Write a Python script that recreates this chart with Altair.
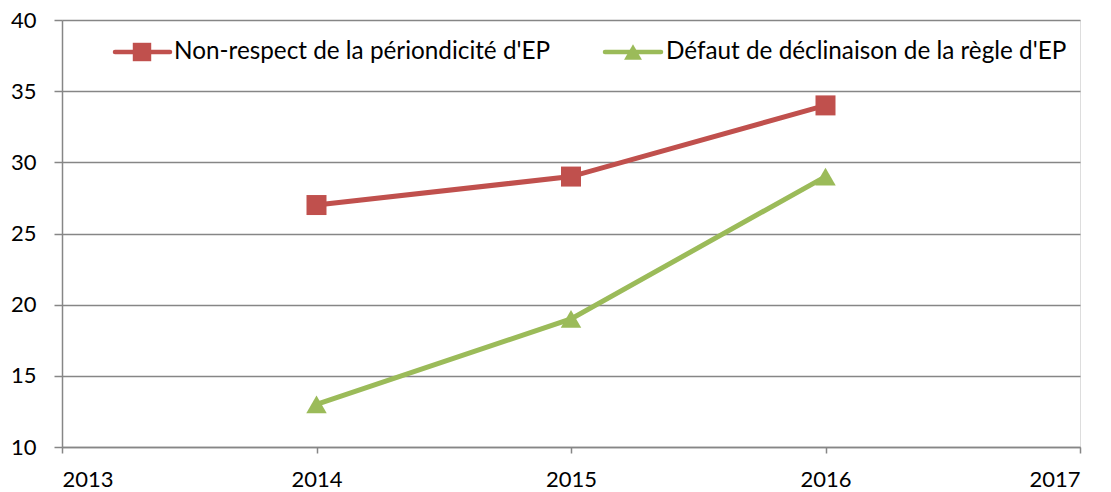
import altair as alt
import pandas as pd

years = [2014, 2015, 2016]
series_names = ["Non-respect de la périondicité d'EP", "Défaut de déclinaison de la règle d'EP"]
values_red = [27, 29, 34]
values_green = [13, 19, 29]
x_ticks = [2013, 2014, 2015, 2016, 2017]
y_ticks = [10, 15, 20, 25, 30, 35, 40]

RED = "#C0504D"
GREEN = "#9BBB59"
GRAY = "#868686"
FONT = "Lato"

df = pd.DataFrame({
    "year": years * 2,
    "value": values_red + values_green,
    "series": [series_names[0]] * 3 + [series_names[1]] * 3,
})

xs = alt.Scale(domain=[2013, 2017], nice=False, zero=False)
ys = alt.Scale(domain=[10, 40], nice=False, zero=False)
cs = alt.Scale(domain=series_names, range=[RED, GREEN])

base = alt.Chart(df)
x = alt.X("year:Q", scale=xs, axis=alt.Axis(values=x_ticks, format="d", title=None, grid=False,
          domainColor=GRAY, tickColor=GRAY, tickSize=6, labelFontSize=22, labelPadding=16,
          labelColor="#000000", labelFont=FONT, domainWidth=1.5, tickWidth=1.5))
y = alt.Y("value:Q", scale=ys, axis=alt.Axis(values=y_ticks, title=None, grid=True, gridColor=GRAY,
          gridWidth=1.5, domainColor=GRAY, tickColor=GRAY, tickSize=8, labelFontSize=22,
          labelPadding=18, labelColor="#000000", labelFont=FONT, domainWidth=1.5, tickWidth=1.5))

lines = base.mark_line(strokeWidth=5).encode(
    x=x, y=y, color=alt.Color("series:N", scale=cs, legend=None), detail="series:N")
red_pts = alt.Chart(df[df.series == series_names[0]]).mark_point(
    shape="square", filled=True, size=400, opacity=1, color=RED).encode(x=alt.X("year:Q", scale=xs), y=alt.Y("value:Q", scale=ys))
green_pts = alt.Chart(df[df.series == series_names[1]]).mark_point(
    shape="triangle-up", filled=True, size=420, opacity=1, color=GREEN).encode(x=alt.X("year:Q", scale=xs), y=alt.Y("value:Q", scale=ys))

leg_df = pd.DataFrame({"label": [series_names[0]]})
leg_df2 = pd.DataFrame({"label": [series_names[1]]})
LY = 32
leg = [
    alt.Chart(leg_df).mark_rule(color=RED, strokeWidth=4.5, strokeCap="round").encode(
        x=alt.value(53), x2=alt.value(108), y=alt.value(LY)),
    alt.Chart(leg_df).mark_point(shape="square", filled=True, size=340, opacity=1, color=RED).encode(
        x=alt.value(80), y=alt.value(LY)),
    alt.Chart(leg_df).mark_text(align="left", baseline="middle", fontSize=24.3, font=FONT, color="#000000").encode(
        x=alt.value(112), y=alt.value(LY), text="label:N"),
    alt.Chart(leg_df2).mark_rule(color=GREEN, strokeWidth=4.5, strokeCap="round").encode(
        x=alt.value(543), x2=alt.value(599), y=alt.value(LY)),
    alt.Chart(leg_df2).mark_point(shape="triangle-up", filled=True, size=320, opacity=1, color=GREEN).encode(
        x=alt.value(571), y=alt.value(LY)),
    alt.Chart(leg_df2).mark_text(align="left", baseline="middle", fontSize=24.3, font=FONT, color="#000000").encode(
        x=alt.value(604), y=alt.value(LY), text="label:N"),
]

chart = alt.layer(lines, red_pts, green_pts, *leg).properties(
    width=1018, height=427,
    autosize=alt.AutoSizeParams(type="none"),
    padding={"left": 54, "top": 12, "right": 20, "bottom": 60},
).configure_view(stroke=None).configure(background="#ffffff")

chart.save("out.html", embed_options={"renderer": "svg", "actions": False})
